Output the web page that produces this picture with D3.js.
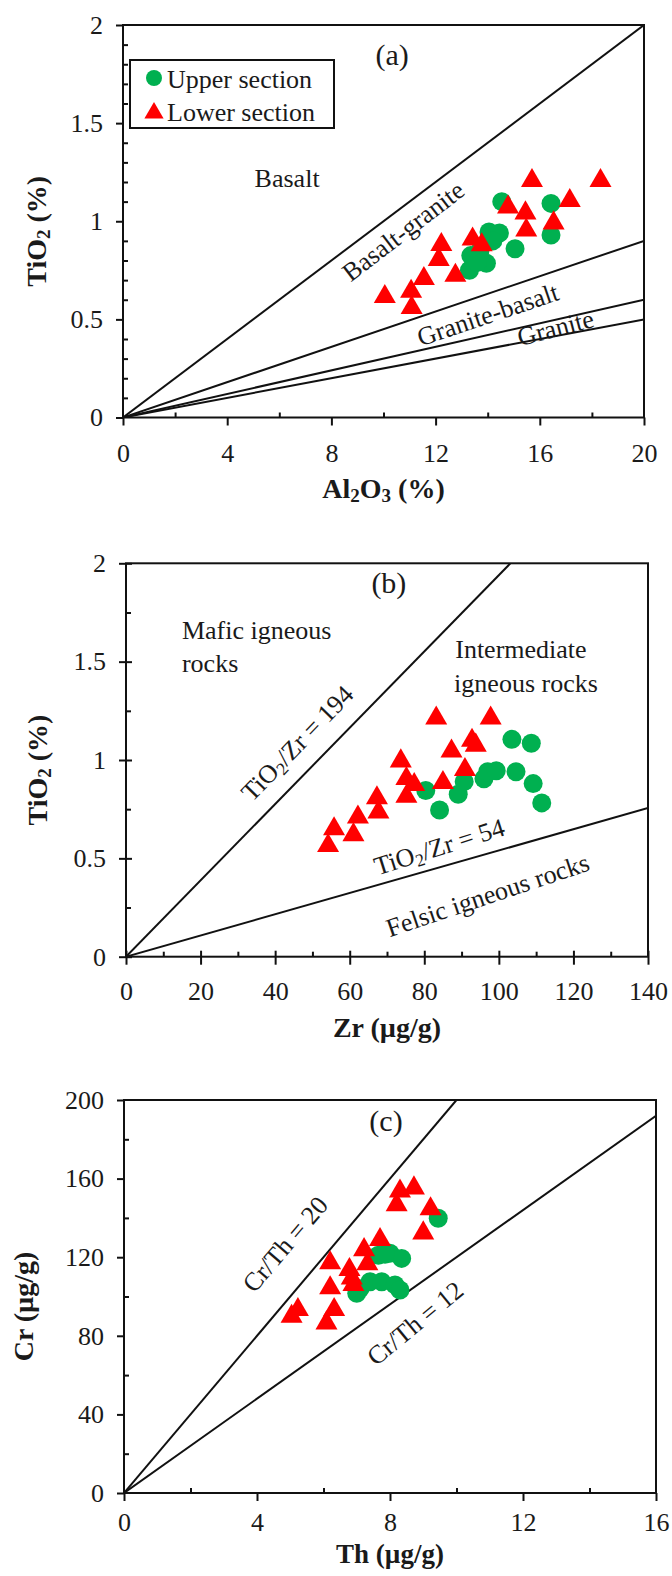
<!DOCTYPE html>
<html><head><meta charset="utf-8">
<script src="https://cdn.jsdelivr.net/npm/d3@7"></script>
<style>
body{margin:0;background:#fff}
svg{display:block}
text{font-family:'Liberation Serif','Times New Roman',serif;fill:#1a1a1a}
</style>
</head><body>
<svg id="chart" width="672" height="1576"></svg>
<script>
// ---------------- DATA ----------------
// Panel (a): Al2O3 (%) vs TiO2 (%)
const aUpperAl2O3 = [14.54, 16.43, 16.43, 15.05, 14.05, 14.45, 14.2, 13.7, 13.35, 13.3, 13.95, 13.6];
const aUpperTiO2  = [1.10, 1.091, 0.93, 0.86, 0.945, 0.94, 0.90, 0.85, 0.825, 0.75, 0.786, 0.79];
const aLowerAl2O3 = [15.7, 18.33, 17.15, 14.78, 15.45, 16.53, 15.48, 13.42, 13.77, 12.22, 12.12, 12.76, 11.55, 11.06, 10.05, 11.08];
const aLowerTiO2  = [1.222, 1.222, 1.12, 1.087, 1.057, 1.006, 0.97, 0.924, 0.895, 0.896, 0.82, 0.739, 0.723, 0.658, 0.631, 0.575];
const aRatios = [0.1, 0.045, 0.03, 0.025];            // TiO2/Al2O3 boundaries
const aXTicks = [0, 4, 8, 12, 16, 20];
const aYTicks = [0, 0.5, 1, 1.5, 2];

// Panel (b): Zr (µg/g) vs TiO2 (%)
const bUpperZr   = [80.4, 84.1, 89.1, 90.7, 96.0, 97.0, 99.3, 103.5, 108.7, 104.6, 109.2, 111.5];
const bUpperTiO2 = [0.845, 0.746, 0.826, 0.89, 0.905, 0.94, 0.945, 1.105, 1.085, 0.94, 0.88, 0.782];
const bLowerZr   = [54.2, 55.8, 61.0, 62.2, 67.3, 67.7, 73.7, 75.2, 75.2, 77.3, 83.2, 85.0, 87.3, 90.9, 92.8, 93.8, 97.8];
const bLowerTiO2 = [0.58, 0.665, 0.635, 0.725, 0.822, 0.75, 1.01, 0.92, 0.83, 0.89, 1.228, 0.90, 1.06, 0.966, 1.115, 1.09, 1.228];
const bRatios = [194 / 10000, 54 / 10000];            // TiO2/Zr = 194, 54
const bXTicks = [0, 20, 40, 60, 80, 100, 120, 140];
const bYTicks = [0, 0.5, 1, 1.5, 2];

// Panel (c): Th (µg/g) vs Cr (µg/g)
const cUpperTh = [9.45, 7.65, 8.0, 8.35, 7.85, 7.0, 7.4, 7.75, 8.15, 8.3, 7.1];
const cUpperCr = [139.8, 121, 122, 119.4, 121.5, 101.6, 107.5, 107.5, 105.9, 103.3, 104];
const cLowerTh = [5.04, 5.23, 6.09, 6.32, 6.2, 6.2, 6.78, 6.85, 6.9, 7.22, 7.32, 7.7, 8.3, 8.72, 8.2, 9.22, 9.0];
const cLowerCr = [91.4, 94.8, 88, 94.8, 105.9, 118.6, 115.2, 110.9, 107.5, 125.3, 118.1, 130.4, 155.1, 156.7, 148.2, 146.1, 133.8];
const cRatios = [20, 12];                              // Cr/Th = 20, 12
const cXTicks = [0, 4, 8, 12, 16];
const cYTicks = [0, 40, 80, 120, 160, 200];

const seriesNames = ["Upper section", "Lower section"];

// ---------------- DRAWING ----------------
const GREEN = "#00B050", RED = "#FF0000";
const svg = d3.select("#chart");
svg.append("rect").attr("width", 672).attr("height", 1576).attr("fill", "#fff");
const fmt = d3.format("~g");

// rich text helper: parts = [[text, isSub], ...]
function rich(textSel, parts) {
  let shifted = false;
  parts.forEach(([t, sub]) => {
    const ts = textSel.append("tspan").text(t);
    if (sub && !shifted) { ts.attr("dy", 7).attr("font-size", "0.68em"); shifted = true; }
    else if (!sub && shifted) { ts.attr("dy", -7); shifted = false; }
    else if (sub) ts.attr("font-size", "0.68em");
  });
}

function zipPts(xs, ys) { return xs.map((v, i) => [v, ys[i]]); }

function drawPanel(p) {
  const g = svg.append("g");
  const b = p.box;
  const x = d3.scaleLinear().domain(p.xDomain).range([b.left, b.right]);
  const y = d3.scaleLinear().domain(p.yDomain).range([b.bottom, b.top]);
  const xmax = p.xDomain[1], ymax = p.yDomain[1];

  const clipId = "clip-" + p.id;
  svg.append("clipPath").attr("id", clipId).append("rect")
    .attr("x", b.left).attr("y", b.top).attr("width", b.right - b.left).attr("height", b.bottom - b.top);

  // boundary lines
  g.append("g").attr("clip-path", `url(#${clipId})`)
    .selectAll("line").data(p.ratios).join("line")
    .attr("x1", x(0)).attr("y1", y(0))
    .attr("x2", r => x(Math.min(xmax, ymax / r)))
    .attr("y2", r => y(Math.min(ymax, r * xmax)))
    .attr("stroke", "#111").attr("stroke-width", 2);

  // minor ticks (inward)
  const gxm = g.append("g").attr("transform", `translate(0,${b.bottom})`)
    .call(d3.axisTop(x).tickValues(p.xMinor).tickSize(5).tickFormat(""));
  gxm.select(".domain").remove();
  gxm.selectAll("line").attr("stroke", "#111").attr("stroke-width", 2);
  const gym = g.append("g").attr("transform", `translate(${b.left},0)`)
    .call(d3.axisRight(y).tickValues(p.yMinor).tickSize(5).tickFormat(""));
  gym.select(".domain").remove();
  gym.selectAll("line").attr("stroke", "#111").attr("stroke-width", 2);

  // major x axis
  const gx = g.append("g").attr("transform", `translate(0,${b.bottom})`)
    .call(d3.axisBottom(x).tickValues(p.xTicks).tickSizeInner(8).tickSizeOuter(0).tickFormat(fmt));
  gx.select(".domain").remove();
  gx.attr("font-size", 26).attr("font-family", "'Liberation Serif','Times New Roman',serif").attr("color", "#111");
  gx.selectAll(".tick line").attr("stroke-width", 2).attr("y1", -p.majorIn);
  gx.selectAll(".tick text").attr("y", p.xLabelOffset).attr("dy", "0.35em");

  // major y axis
  const gy = g.append("g").attr("transform", `translate(${b.left},0)`)
    .call(d3.axisLeft(y).tickValues(p.yTicks).tickSizeInner(7).tickSizeOuter(0).tickPadding(13).tickFormat(fmt));
  gy.select(".domain").remove();
  gy.attr("font-size", 26).attr("font-family", "'Liberation Serif','Times New Roman',serif").attr("color", "#111");
  gy.selectAll(".tick line").attr("stroke-width", 2).attr("x1", p.majorIn);

  // frame
  g.append("rect").attr("x", b.left).attr("y", b.top)
    .attr("width", b.right - b.left).attr("height", b.bottom - b.top)
    .attr("fill", "none").attr("stroke", "#111").attr("stroke-width", 2);

  // points: upper (circles) then lower (triangles)
  g.append("g").selectAll("circle").data(zipPts(p.upperX, p.upperY)).join("circle")
    .attr("cx", d => x(d[0])).attr("cy", d => y(d[1])).attr("r", 9.5).attr("fill", GREEN);
  const tri = d3.symbol().type(d3.symbolTriangle).size(210);
  g.append("g").selectAll("path").data(zipPts(p.lowerX, p.lowerY)).join("path")
    .attr("d", tri).attr("fill", RED)
    .attr("transform", d => `translate(${x(d[0])},${y(d[1]) + 3})`);

  // annotations
  p.notes.forEach(n => {
    const t = g.append("text")
      .attr("transform", `translate(${x(n.x)},${y(n.y)}) rotate(${n.angle || 0})`)
      .attr("text-anchor", n.anchor || "middle").attr("dominant-baseline", "central")
      .attr("font-size", n.size || 26);
    rich(t, n.parts);
  });

  // axis titles
  const xt = g.append("text").attr("x", (b.left + b.right) / 2).attr("y", b.bottom + p.xTitleOffset)
    .attr("text-anchor", "middle").attr("dominant-baseline", "central")
    .attr("font-size", p.xTitleSize || 28).attr("font-weight", "bold");
  rich(xt, p.xTitle);
  const yt = g.append("text")
    .attr("transform", `translate(${p.yTitleX},${(b.top + b.bottom) / 2 + 10}) rotate(-90)`)
    .attr("text-anchor", "middle").attr("dominant-baseline", "central")
    .attr("font-size", 28).attr("font-weight", "bold");
  rich(yt, p.yTitle);

  return { g, x, y };
}

function range(a, b, s) { const r = []; for (let v = a; v <= b + 1e-9; v += s) r.push(+v.toFixed(4)); return r; }

// Panel (a)
const A = drawPanel({
  id: "a", box: { left: 123, right: 644, top: 25, bottom: 417.5 },
  xDomain: [0, 20], yDomain: [0, 2],
  xTicks: aXTicks, yTicks: aYTicks,
  xMinor: range(2, 18, 4), yMinor: range(0.1, 1.9, 0.1).filter(v => Math.abs(v * 2 - Math.round(v * 2)) > 1e-6),
  majorIn: 0, ratios: aRatios,
  upperX: aUpperAl2O3, upperY: aUpperTiO2, lowerX: aLowerAl2O3, lowerY: aLowerTiO2,
  xLabelOffset: 35,
  xTitle: [["Al"], ["2", true], ["O"], ["3", true], [" (%)"]], xTitleOffset: 70,
  yTitle: [["TiO"], ["2", true], [" (%)"]], yTitleX: 36,
  notes: [
    { x: 10.33, y: 1.852, size: 30, parts: [["(a)"]] },
    { x: 6.3, y: 1.22, parts: [["Basalt"]] },
    { x: 10.75, y: 0.95, angle: -37.5, parts: [["Basalt-granite"]] },
    { x: 14.0, y: 0.525, angle: -18.6, parts: [["Granite-basalt"]] },
    { x: 16.6, y: 0.458, angle: -14.6, parts: [["Granite"]] }
  ]
});

// legend (panel a)
{
  const lg = A.g.append("g").attr("transform", "translate(130,60)");
  lg.append("rect").attr("width", 204).attr("height", 68).attr("fill", "#fff")
    .attr("stroke", "#111").attr("stroke-width", 2);
  const items = lg.selectAll("g.item").data(seriesNames).join("g").attr("class", "item")
    .attr("transform", (d, i) => `translate(0,${18 + i * 33})`);
  items.filter((d, i) => i === 0).append("circle").attr("cx", 24).attr("cy", 0).attr("r", 8).attr("fill", GREEN);
  items.filter((d, i) => i === 1).append("path")
    .attr("d", d3.symbol().type(d3.symbolTriangle).size(160)).attr("fill", RED)
    .attr("transform", "translate(24,2)");
  items.append("text").attr("x", 37).attr("y", 1).attr("dominant-baseline", "central")
    .attr("font-size", 26).text(d => d);
}

// Panel (b)
drawPanel({
  id: "b", box: { left: 126, right: 648, top: 563.3, bottom: 956.7 },
  xDomain: [0, 140], yDomain: [0, 2],
  xTicks: bXTicks, yTicks: bYTicks,
  xMinor: range(10, 130, 20), yMinor: [0.25, 0.75, 1.25, 1.75],
  majorIn: 6, ratios: bRatios,
  upperX: bUpperZr, upperY: bUpperTiO2, lowerX: bLowerZr, lowerY: bLowerTiO2,
  xLabelOffset: 34,
  xTitle: [["Zr (µg/g)"]], xTitleOffset: 70,
  yTitle: [["TiO"], ["2", true], [" (%)"]], yTitleX: 37,
  notes: [
    { x: 70.5, y: 1.905, size: 30, parts: [["(b)"]] },
    { x: 15.0, y: 1.661, anchor: "start", parts: [["Mafic igneous"]] },
    { x: 15.0, y: 1.494, anchor: "start", parts: [["rocks"]] },
    { x: 88.3, y: 1.564, anchor: "start", parts: [["Intermediate"]] },
    { x: 88.0, y: 1.392, anchor: "start", parts: [["igneous rocks"]] },
    { x: 45.9, y: 1.086, angle: -46, parts: [["TiO"], ["2", true], ["/Zr = 194"]] },
    { x: 84.0, y: 0.56, angle: -17.5, parts: [["TiO"], ["2", true], ["/Zr = 54"]] },
    { x: 97.0, y: 0.314, angle: -18.5, parts: [["Felsic igneous rocks"]] }
  ]
});

// Panel (c)
drawPanel({
  id: "c", box: { left: 124, right: 656, top: 1100, bottom: 1493 },
  xDomain: [0, 16], yDomain: [0, 200],
  xTicks: cXTicks, yTicks: cYTicks,
  xMinor: range(2, 14, 4), yMinor: range(20, 180, 40),
  majorIn: 0, ratios: cRatios,
  upperX: cUpperTh, upperY: cUpperCr, lowerX: cLowerTh, lowerY: cLowerCr,
  xLabelOffset: 29,
  xTitle: [["Th (µg/g)"]], xTitleOffset: 61, xTitleSize: 27,
  yTitle: [["Cr (µg/g)"]], yTitleX: 23,
  notes: [
    { x: 7.88, y: 189.8, size: 30, parts: [["(c)"]] },
    { x: 4.84, y: 126.7, angle: -49.5, parts: [["Cr/Th = 20"]] },
    { x: 8.75, y: 86.5, angle: -39.5, parts: [["Cr/Th = 12"]] }
  ]
});
</script>
</body></html>
